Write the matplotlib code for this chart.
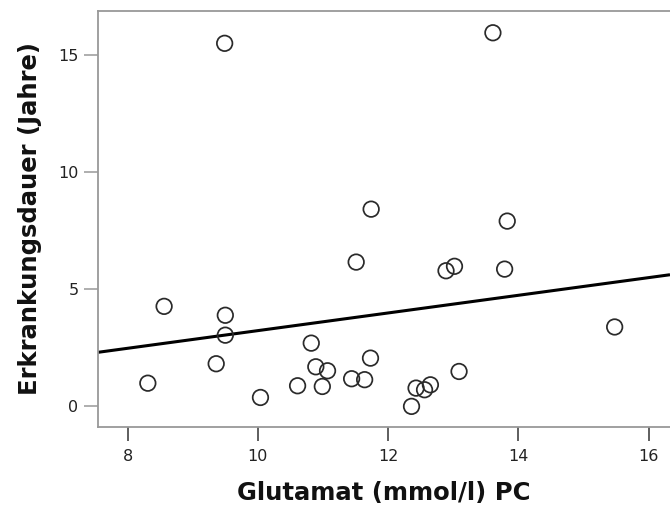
import numpy as np
import matplotlib
matplotlib.use("Agg")
import matplotlib.pyplot as plt

# Glutamat (mmol/l) PC vs. Erkrankungsdauer (Jahre)
glutamat = [8.31, 8.56, 9.50, 9.50, 9.36, 10.04, 10.61, 10.82, 10.89, 10.99,
            11.07, 11.44, 11.64, 11.73, 12.43, 12.56, 12.65, 12.36, 13.09, 15.48,
            12.89, 13.02, 13.79, 11.51, 11.74, 13.83, 13.61, 9.49]
dauer = [0.99, 4.27, 3.89, 3.04, 1.82, 0.38, 0.88, 2.70, 1.69, 0.85,
         1.52, 1.18, 1.14, 2.06, 0.78, 0.71, 0.92, 0.00, 1.49, 3.39,
         5.79, 5.98, 5.86, 6.16, 8.42, 7.91, 15.95, 15.50]

# linear fit line as shown
fit_slope = 0.377
fit_intercept = -0.536

x_ticks = [8, 10, 12, 14, 16]
y_ticks = [0, 5, 10, 15]
xlim = (7.545, 16.33)
ylim = (-0.88, 16.88)

fig = plt.figure(figsize=(6.7, 5.16), dpi=100)
ax = fig.add_axes([0.1463, 0.1725, 0.8537, 0.8062])

xs = np.array(xlim)
ax.plot(xs, fit_intercept + fit_slope * xs, color="black", linewidth=2.2,
        solid_capstyle="butt", zorder=2)
ax.scatter(glutamat, dauer, s=125, facecolors="none", edgecolors="#2a2a2a",
           linewidths=1.25, zorder=3)

ax.set_xlim(*xlim)
ax.set_ylim(*ylim)
ax.set_xticks(x_ticks)
ax.set_yticks(y_ticks)
ax.tick_params(axis="x", length=10, width=1.1, color="#333333", labelsize=11.5,
               pad=6, labelcolor="#222222")
ax.tick_params(axis="y", length=10, width=1.1, color="#999999", labelsize=11.5,
               pad=4, labelcolor="#222222")

for side in ("left", "bottom", "top"):
    ax.spines[side].set_color("#999999")
    ax.spines[side].set_linewidth(1.3)
ax.spines["right"].set_visible(False)

ax.set_xlabel("Glutamat (mmol/l) PC", fontsize=17.5, fontweight="bold",
              labelpad=12, color="#111111")
ax.set_ylabel("Erkrankungsdauer (Jahre)", fontsize=17.5, fontweight="bold",
              labelpad=12, color="#111111")

fig.savefig("out.png", dpi=100)
